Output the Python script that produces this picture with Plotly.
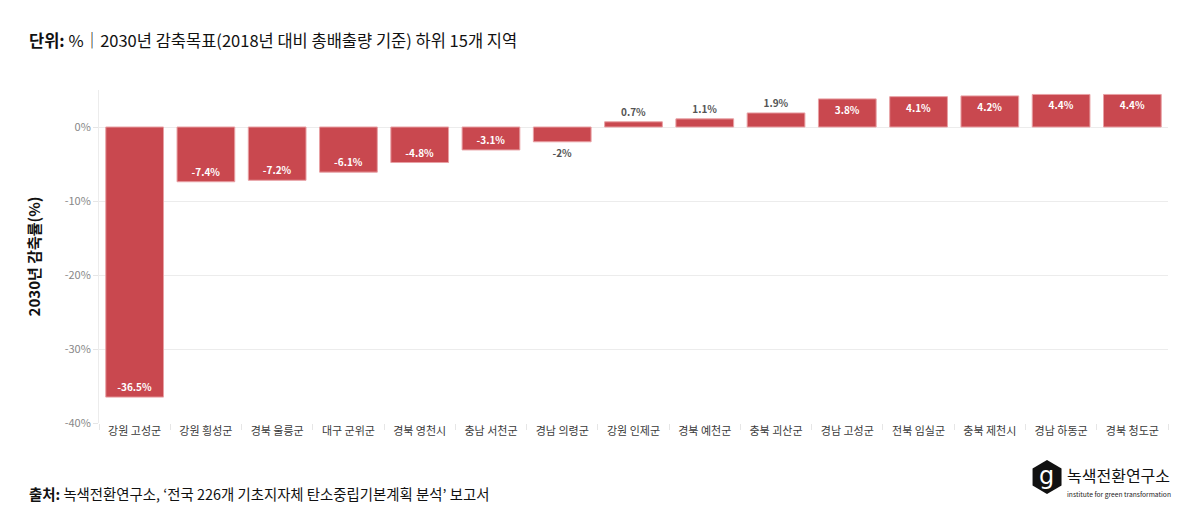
import plotly.graph_objects as go

regions = ["강원 고성군", "강원 횡성군", "경북 울릉군", "대구 군위군", "경북 영천시", "충남 서천군", "경남 의령군",
           "강원 인제군", "경북 예천군", "충북 괴산군", "경남 고성군", "전북 임실군", "충북 제천시", "경남 하동군", "경북 청도군"]
values = [-36.5, -7.4, -7.2, -6.1, -4.8, -3.1, -2, 0.7, 1.1, 1.9, 3.8, 4.1, 4.2, 4.4, 4.4]
y_ticks = [0, -10, -20, -30, -40]
y_tick_labels = ["0%", "-10%", "-20%", "-30%", "-40%"]

FONT = "Noto Sans CJK KR"
inside = [abs(v) >= 2.5 for v in values]
texts = [f"{v:g}%" for v in values]

fig = go.Figure()
fig.add_trace(go.Bar(
    x=regions, y=values,
    text=texts,
    textposition=["inside" if i else "outside" for i in inside],
    insidetextanchor="end",
    textfont=dict(family=FONT, size=10,
                  color=["#ffffff" if i else "#555555" for i in inside],
                  weight="bold"),
    marker=dict(color="#c9484f", line=dict(color="#e8a0a4", width=1)),
    cliponaxis=False,
    hoverinfo="skip",
))

fig.update_layout(
    width=1200, height=521,
    margin=dict(l=99, r=32, t=90, b=98),
    paper_bgcolor="white", plot_bgcolor="white",
    bargap=0.19,
    showlegend=False,
    font=dict(family=FONT),
    xaxis=dict(
        tickfont=dict(family=FONT, size=11, color="#3a3a3a"),
        ticks="outside", tickson="boundaries", ticklen=6, tickcolor="#e6e6e6",
        showline=False, showgrid=False,
    ),
    yaxis=dict(
        range=[-40, 5],
        tickvals=y_ticks, ticktext=y_tick_labels,
        tickfont=dict(family=FONT, size=11, color="#888888"),
        ticks="outside", ticklen=5, tickcolor="#e6e6e6",
        showgrid=True, gridcolor="#ececec", gridwidth=1,
        zeroline=True, zerolinecolor="#ececec", zerolinewidth=1,
        showline=True, linecolor="#ececec", linewidth=1,
        title=dict(text="<b>2030년 감축률(%)</b>", font=dict(family=FONT, size=15, color="#111111"), standoff=20),
    ),
)

fig.add_annotation(xref="paper", yref="paper", x=-0.0678, y=1.0, xanchor="left", yanchor="middle",
                   yshift=50, showarrow=False,
                   text="<b>단위:</b> %｜2030년 감축목표(2018년 대비 총배출량 기준) 하위 15개 지역",
                   font=dict(family=FONT, size=16.5, color="#111111"))
fig.add_annotation(xref="paper", yref="paper", x=-0.0678, y=0, xanchor="left", yanchor="middle",
                   yshift=-70, showarrow=False,
                   text="<b>출처:</b> 녹색전환연구소, ‘전국 226개 기초지자체 탄소중립기본계획 분석’ 보고서",
                   font=dict(family=FONT, size=14.4, color="#111111"))

# logo
fig.add_shape(type="path", xref="paper", yref="paper",
              path="M 0.8868 -0.1111 L 0.9004 -0.1366 L 0.9004 -0.1877 L 0.8868 -0.2132 L 0.8733 -0.1877 L 0.8733 -0.1366 Z",
              fillcolor="#111111", line=dict(width=0))
fig.add_annotation(xref="paper", yref="paper", x=0.8868, y=-0.158, xanchor="center", yanchor="middle", showarrow=False,
                   text="g", font=dict(family="DejaVu Sans", size=24, color="white"))
fig.add_annotation(xref="paper", yref="paper", x=0.9036, y=-0.156, xanchor="left", yanchor="middle", showarrow=False,
                   text="녹색전환연구소", font=dict(family=FONT, size=16, color="#111111"))
fig.add_annotation(xref="paper", yref="paper", x=0.9036, y=-0.213, xanchor="left", yanchor="middle", showarrow=False,
                   text="institute for green transformation", font=dict(family=FONT, size=6.7, color="#222222"))

fig.write_html("out.html")
